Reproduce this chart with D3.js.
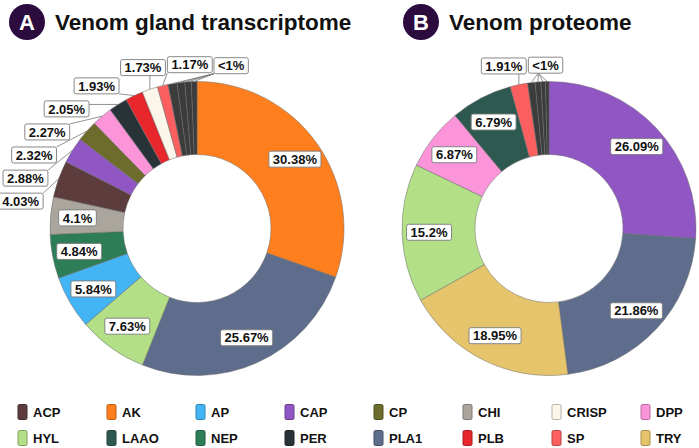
<!DOCTYPE html>
<html>
<head>
<meta charset="utf-8">
<script src="https://cdn.jsdelivr.net/npm/d3@7"></script>
<style>
  body { margin: 0; background: #fff; }
  svg { font-family: "Liberation Sans", Arial, sans-serif; }
  .value-label text { font-size: 13px; font-weight: bold; fill: #111; }
  .legend text { font-size: 13px; font-weight: bold; fill: #111; }
  .title text { font-weight: bold; }
</style>
</head>
<body>
<svg id="chart" width="699" height="448"></svg>
<script>
// Legend categories (two rows of eight)
const categories = ['ACP', 'AK', 'AP', 'CAP', 'CP', 'CHI', 'CRISP', 'DPP',
                    'HYL', 'LAAO', 'NEP', 'PER', 'PLA1', 'PLB', 'SP', 'TRY'];

// A: venom gland transcriptome, clockwise from 12 o'clock
const transcriptomeNames = ['AK', 'PLA1', 'HYL', 'AP', 'NEP', 'CHI', 'ACP', 'CAP', 'CP',
                            'DPP', 'PER', 'PLB', 'CRISP', 'SP', 'Other', 'Other', 'Other', 'Other'];
const transcriptomeValues = [30.38, 25.67, 7.63, 5.84, 4.84, 4.1, 4.03, 2.88, 2.32,
                             2.27, 2.05, 1.93, 1.73, 1.17, 0.98, 0.85, 0.72, 0.61];

// B: venom proteome, clockwise from 12 o'clock
const proteomeNames = ['CAP', 'PLA1', 'TRY', 'HYL', 'DPP', 'LAAO', 'SP', 'Other', 'Other', 'Other', 'Other'];
const proteomeValues = [26.09, 21.86, 18.95, 15.2, 6.87, 6.79, 1.91, 0.82, 0.63, 0.5, 0.38];

const color = d3.scaleOrdinal()
    .domain([...categories, 'Other'])
    .range(['#5d3c3d', '#ff7f1f', '#43b4f4', '#9056c4', '#6e6c2d', '#aba69d', '#fcf6ea', '#fc94da',
            '#b3df86', '#2e5950', '#2d7d57', '#283338', '#5f6d8d', '#e8272d', '#fb5f5f', '#e6c46b',
            '#3c3c3c']);

class DonutChart {

  constructor(_config, _names, _values) {
    this.config = {
      parentElement: _config.parentElement,
      cx: _config.cx,
      cy: _config.cy,
      outerRadius: _config.outerRadius || 147,
      innerRadius: _config.innerRadius || 74,
      labelRadius: _config.labelRadius || 120,
      letter: _config.letter,
      title: _config.title,
      titleX: _config.titleX,
      insideCutoff: 4.05,
      minorCutoff: 1
    };
    this.data = _names.map((n, i) => ({ name: n, value: _values[i] }));
    this.initVis();
  }

  initVis() {
    let vis = this;
    vis.svg = d3.select(vis.config.parentElement);

    const title = vis.svg.append('g').attr('class', 'title');
    title.append('circle')
        .attr('cx', vis.config.titleX)
        .attr('cy', 22)
        .attr('r', 18)
        .attr('fill', '#2c0b3e');
    title.append('text')
        .attr('x', vis.config.titleX)
        .attr('y', 30)
        .attr('text-anchor', 'middle')
        .attr('fill', '#fff')
        .style('font-size', '22px')
        .text(vis.config.letter);
    title.append('text')
        .attr('x', vis.config.titleX + 28)
        .attr('y', 30)
        .attr('fill', '#111')
        .style('font-size', '22.5px')
        .text(vis.config.title);

    vis.chart = vis.svg.append('g')
        .attr('transform', `translate(${vis.config.cx},${vis.config.cy})`);

    vis.pie = d3.pie().sort(null).value(d => d.value);
    vis.arc = d3.arc()
        .innerRadius(vis.config.innerRadius)
        .outerRadius(vis.config.outerRadius);

    vis.renderVis();
  }

  renderVis() {
    let vis = this;
    const arcs = vis.pie(vis.data);

    vis.chart.selectAll('.slice')
        .data(arcs)
        .join('path')
        .attr('class', 'slice')
        .attr('d', vis.arc)
        .attr('fill', d => color(d.data.name))
        .attr('stroke', '#6b6b6b')
        .attr('stroke-width', 0.5);

    const mid = d => (d.startAngle + d.endAngle) / 2;
    const polar = (r, a) => [r * Math.sin(a), -r * Math.cos(a)];

    // labels inside the ring
    const inside = arcs.filter(d => d.data.value >= vis.config.insideCutoff);
    inside.forEach(d => {
      const [x, y] = polar(vis.config.labelRadius, mid(d));
      vis.addBox(d.data.value + '%', x, y);
    });

    // labels outside with leader lines; every <1% slice shares one label
    const outside = arcs.filter(d => d.data.value < vis.config.insideCutoff && d.data.value >= vis.config.minorCutoff)
        .map(d => ({ text: d.data.value + '%', targets: [mid(d)], a0: mid(d) }));
    const minor = arcs.filter(d => d.data.value < vis.config.minorCutoff);
    if (minor.length) {
      outside.push({
        text: '<1%',
        targets: minor.map(mid),
        a0: (minor[0].startAngle + minor[minor.length - 1].endAngle) / 2
      });
    }

    const layer = vis.chart.append('g');
    outside.forEach(l => {
      const g = vis.addBox(l.text, 0, 0);
      l.g = g;
      l.w = g.node().__w;
      l.h = g.node().__h;
      l.a = l.a0;
    });

    const base = 155;
    const place = l => {
      const e = Math.abs(Math.sin(l.a)) * l.w / 2 + Math.abs(Math.cos(l.a)) * l.h / 2;
      const [x, y] = polar(base + e, l.a);
      l.x = x; l.y = y;
    };
    outside.forEach(place);
    // push overlapping neighbours apart along the circle
    for (let it = 0; it < 800; it++) {
      let moved = false;
      for (let i = 0; i < outside.length - 1; i++) {
        const p = outside[i], q = outside[i + 1];
        const ox = Math.abs(p.x - q.x) < (p.w + q.w) / 2 + 1.5;
        const oy = Math.abs(p.y - q.y) < (p.h + q.h) / 2 + 7;
        if (ox && oy) {
          p.a -= 0.0025; q.a += 0.002;
          place(p); place(q);
          moved = true;
        }
      }
      if (!moved) break;
    }

    outside.forEach(l => {
      l.g.attr('transform', `translate(${l.x},${l.y})`);
      const x0 = l.x - l.w / 2, x1 = l.x + l.w / 2, y0 = l.y - l.h / 2, y1 = l.y + l.h / 2;
      const [gx, gy] = polar(vis.config.outerRadius, l.a0);
      const px = Math.max(x0, Math.min(x1, gx));
      const py = Math.max(y0, Math.min(y1, gy));
      l.targets.forEach(t => {
        const [tx, ty] = polar(vis.config.outerRadius, t);
        layer.append('line')
            .attr('x1', px).attr('y1', py)
            .attr('x2', tx).attr('y2', ty)
            .attr('stroke', '#777')
            .attr('stroke-width', 0.8);
      });
    });
    // keep boxes above leader lines
    outside.forEach(l => l.g.raise());
  }

  addBox(text, x, y) {
    let vis = this;
    const g = vis.chart.append('g')
        .attr('class', 'value-label')
        .attr('transform', `translate(${x},${y})`);
    const rect = g.append('rect');
    const t = g.append('text')
        .attr('text-anchor', 'middle')
        .attr('dy', '0.36em')
        .text(text);
    const w = t.node().getComputedTextLength() + 8;
    const h = 16;
    rect.attr('x', -w / 2).attr('y', -h / 2)
        .attr('width', w).attr('height', h)
        .attr('rx', 2)
        .attr('fill', '#fff')
        .attr('stroke', '#7a7a7a')
        .attr('stroke-width', 0.9);
    g.node().__w = w;
    g.node().__h = h;
    return g;
  }
}

new DonutChart({ parentElement: '#chart', cx: 197, cy: 228.5, letter: 'A',
                 title: 'Venom gland transcriptome', titleX: 27 },
               transcriptomeNames, transcriptomeValues);
new DonutChart({ parentElement: '#chart', cx: 549, cy: 228.5, letter: 'B',
                 title: 'Venom proteome', titleX: 421 },
               proteomeNames, proteomeValues);

// Legend
const legendX = d3.scalePoint().domain(d3.range(8)).range([18, 641]);
const legend = d3.select('#chart').append('g').attr('class', 'legend');
const items = legend.selectAll('g')
    .data(categories)
    .join('g')
    .attr('transform', (d, i) => `translate(${legendX(i % 8)},${i < 8 ? 412 : 438})`);
items.append('rect')
    .attr('x', 0).attr('y', -7.5)
    .attr('width', 9).attr('height', 15)
    .attr('rx', 1.5)
    .attr('fill', d => color(d))
    .attr('stroke', d => d3.color(color(d)).darker(0.9))
    .attr('stroke-width', 1);
items.append('text')
    .attr('x', 15)
    .attr('dy', '0.36em')
    .text(d => d);
</script>
</body>
</html>
